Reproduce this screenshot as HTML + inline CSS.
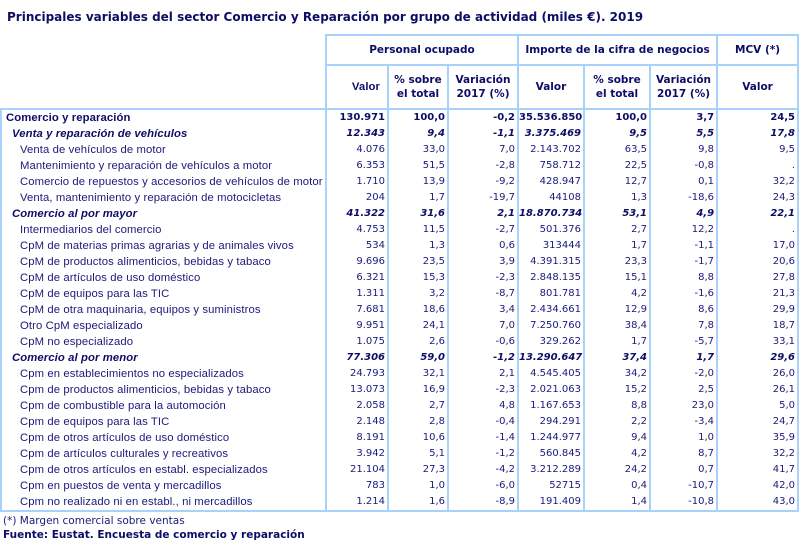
<!DOCTYPE html>
<html><head><meta charset="utf-8"><style>
body{margin:0;width:800px;height:558px;background:#fff;font-family:"DejaVu Sans","Liberation Sans",sans-serif;color:#1a1a7a;position:relative;overflow:hidden}
.title{position:absolute;left:7px;top:10px;font-size:12px;font-weight:bold;color:#0d0d66}
table{position:absolute;left:0;top:34px;width:797px;border-collapse:collapse;table-layout:fixed;font-size:10px;font-family:"DejaVu Sans",sans-serif}
td{padding:0 2px 0 0;height:16px;line-height:16px;text-align:right;white-space:nowrap;overflow:hidden;border-left:2px solid #a6d2fb;border-right:2px solid #a6d2fb}
td:first-child{text-align:left;padding-left:18px;font-family:"Liberation Sans",sans-serif;font-size:11.3px;letter-spacing:0.1px}
thead td{text-align:center!important;font-weight:bold;color:#0d0d66;border:2px solid #a6d2fb;padding:0;line-height:14px;font-size:10.5px}
thead td.blank{border-top:none;border-left:none}
tr.b td{font-weight:bold;color:#0d0d66}
tr.b td:first-child{padding-left:4px}
tr.i td{font-weight:bold;font-style:italic;color:#0d0d66}
tr.i td:first-child{padding-left:10px}
tr.last td{border-bottom:2px solid #a6d2fb}
.f1{position:absolute;left:3px;top:515px;font-size:10.5px;color:#1a1a7a}
.f2{position:absolute;left:3px;top:529px;font-size:10.5px;font-weight:bold;color:#0d0d66}
</style></head><body>
<div class="title">Principales variables del sector Comercio y Reparación por grupo de actividad (miles €). 2019</div>
<table>
<colgroup><col style="width:325px"><col style="width:62px"><col style="width:60px"><col style="width:70px"><col style="width:66px"><col style="width:66px"><col style="width:67px"><col style="width:81px"></colgroup>
<thead>
<tr><td class="blank" rowspan="2" style="height:72px"></td><td colspan="3" style="height:28px">Personal ocupado</td><td colspan="3">Importe de la cifra de negocios</td><td>MCV (*)</td></tr>
<tr><td style="height:42px">Valor</td><td>% sobre<br>el total</td><td>Variación<br>2017 (%)</td><td>Valor</td><td>% sobre<br>el total</td><td>Variación<br>2017 (%)</td><td>Valor</td></tr>
</thead>
<tbody>
<tr class="b"><td>Comercio y reparación</td><td>130.971</td><td>100,0</td><td>-0,2</td><td>35.536.850</td><td>100,0</td><td>3,7</td><td>24,5</td></tr>
<tr class="i"><td>Venta y reparación de vehículos</td><td>12.343</td><td>9,4</td><td>-1,1</td><td>3.375.469</td><td>9,5</td><td>5,5</td><td>17,8</td></tr>
<tr><td>Venta de vehículos de motor</td><td>4.076</td><td>33,0</td><td>7,0</td><td>2.143.702</td><td>63,5</td><td>9,8</td><td>9,5</td></tr>
<tr><td>Mantenimiento y reparación de vehículos a motor</td><td>6.353</td><td>51,5</td><td>-2,8</td><td>758.712</td><td>22,5</td><td>-0,8</td><td>.</td></tr>
<tr><td>Comercio de repuestos y accesorios de vehículos de motor</td><td>1.710</td><td>13,9</td><td>-9,2</td><td>428.947</td><td>12,7</td><td>0,1</td><td>32,2</td></tr>
<tr><td>Venta, mantenimiento y reparación de motocicletas</td><td>204</td><td>1,7</td><td>-19,7</td><td>44108</td><td>1,3</td><td>-18,6</td><td>24,3</td></tr>
<tr class="i"><td>Comercio al por mayor</td><td>41.322</td><td>31,6</td><td>2,1</td><td>18.870.734</td><td>53,1</td><td>4,9</td><td>22,1</td></tr>
<tr><td>Intermediarios del comercio</td><td>4.753</td><td>11,5</td><td>-2,7</td><td>501.376</td><td>2,7</td><td>12,2</td><td>.</td></tr>
<tr><td>CpM de materias primas agrarias y de animales vivos</td><td>534</td><td>1,3</td><td>0,6</td><td>313444</td><td>1,7</td><td>-1,1</td><td>17,0</td></tr>
<tr><td>CpM de productos alimenticios, bebidas y tabaco</td><td>9.696</td><td>23,5</td><td>3,9</td><td>4.391.315</td><td>23,3</td><td>-1,7</td><td>20,6</td></tr>
<tr><td>CpM de artículos de uso doméstico</td><td>6.321</td><td>15,3</td><td>-2,3</td><td>2.848.135</td><td>15,1</td><td>8,8</td><td>27,8</td></tr>
<tr><td>CpM de equipos para las TIC</td><td>1.311</td><td>3,2</td><td>-8,7</td><td>801.781</td><td>4,2</td><td>-1,6</td><td>21,3</td></tr>
<tr><td>CpM de otra maquinaria, equipos y suministros</td><td>7.681</td><td>18,6</td><td>3,4</td><td>2.434.661</td><td>12,9</td><td>8,6</td><td>29,9</td></tr>
<tr><td>Otro CpM especializado</td><td>9.951</td><td>24,1</td><td>7,0</td><td>7.250.760</td><td>38,4</td><td>7,8</td><td>18,7</td></tr>
<tr><td>CpM no especializado</td><td>1.075</td><td>2,6</td><td>-0,6</td><td>329.262</td><td>1,7</td><td>-5,7</td><td>33,1</td></tr>
<tr class="i"><td>Comercio al por menor</td><td>77.306</td><td>59,0</td><td>-1,2</td><td>13.290.647</td><td>37,4</td><td>1,7</td><td>29,6</td></tr>
<tr><td>Cpm en establecimientos no especializados</td><td>24.793</td><td>32,1</td><td>2,1</td><td>4.545.405</td><td>34,2</td><td>-2,0</td><td>26,0</td></tr>
<tr><td>Cpm de productos alimenticios, bebidas y tabaco</td><td>13.073</td><td>16,9</td><td>-2,3</td><td>2.021.063</td><td>15,2</td><td>2,5</td><td>26,1</td></tr>
<tr><td>Cpm de combustible para la automoción</td><td>2.058</td><td>2,7</td><td>4,8</td><td>1.167.653</td><td>8,8</td><td>23,0</td><td>5,0</td></tr>
<tr><td>Cpm de equipos para las TIC</td><td>2.148</td><td>2,8</td><td>-0,4</td><td>294.291</td><td>2,2</td><td>-3,4</td><td>24,7</td></tr>
<tr><td>Cpm de otros artículos de uso doméstico</td><td>8.191</td><td>10,6</td><td>-1,4</td><td>1.244.977</td><td>9,4</td><td>1,0</td><td>35,9</td></tr>
<tr><td>Cpm de artículos culturales y recreativos</td><td>3.942</td><td>5,1</td><td>-1,2</td><td>560.845</td><td>4,2</td><td>8,7</td><td>32,2</td></tr>
<tr><td>Cpm de otros artículos en establ. especializados</td><td>21.104</td><td>27,3</td><td>-4,2</td><td>3.212.289</td><td>24,2</td><td>0,7</td><td>41,7</td></tr>
<tr><td>Cpm en puestos de venta y mercadillos</td><td>783</td><td>1,0</td><td>-6,0</td><td>52715</td><td>0,4</td><td>-10,7</td><td>42,0</td></tr>
<tr class="last"><td>Cpm no realizado ni en establ., ni mercadillos</td><td>1.214</td><td>1,6</td><td>-8,9</td><td>191.409</td><td>1,4</td><td>-10,8</td><td>43,0</td></tr>
</tbody></table>
<div class="f1">(*) Margen comercial sobre ventas</div>
<div class="f2">Fuente: Eustat. Encuesta de comercio y reparación</div>
</body></html>
